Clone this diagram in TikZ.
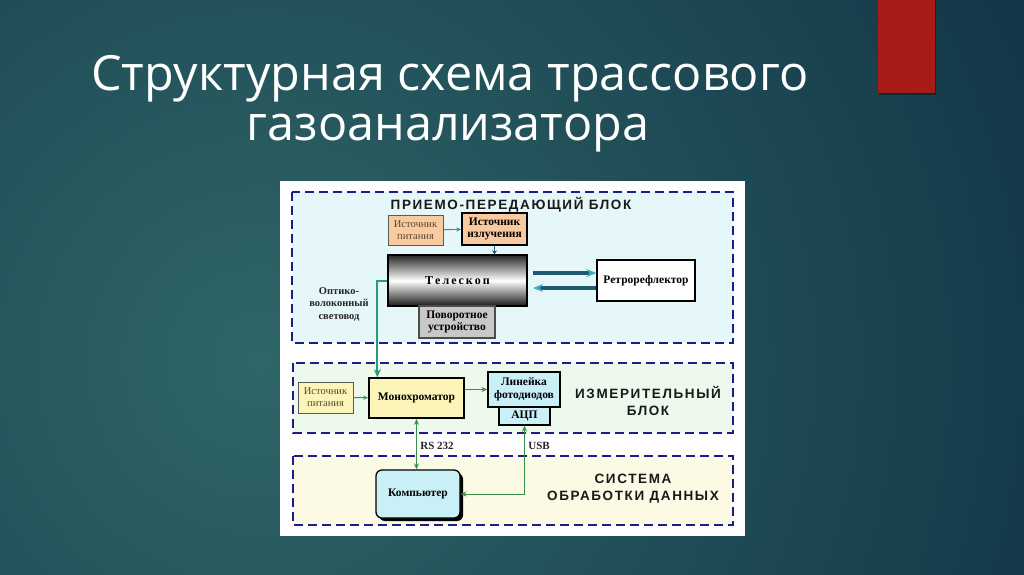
\documentclass[tikz,border=0pt]{standalone}
\usepackage{fontspec}
\setmainfont{Liberation Serif}
\newfontfamily\titlefont{Open Sans}
\newfontfamily\headfont{Liberation Sans}[LetterSpace=12]
\usetikzlibrary{arrows.meta,shadows}
\definecolor{bgmid}{HTML}{2F6668}
\definecolor{bgdark}{HTML}{133848}
\definecolor{redbar}{HTML}{A81A16}
\definecolor{dashblue}{HTML}{1C1C8A}
\definecolor{fillA}{HTML}{E6F7FA}
\definecolor{fillB}{HTML}{ECF9EC}
\definecolor{fillC}{HTML}{FCFAE4}
\definecolor{peach}{HTML}{F9C9A0}
\definecolor{paleyellow}{HTML}{FCF4B8}
\definecolor{palecyan}{HTML}{C9F0F6}
\definecolor{greyfill}{HTML}{C8C8C8}
\definecolor{fibergreen}{HTML}{2A9A78}
\definecolor{arrgreen}{HTML}{3A8F4A}
\definecolor{beamdark}{HTML}{1E5B73}
\definecolor{beamhead}{HTML}{3AAFC8}
\definecolor{smalltext}{HTML}{5A4A30}
\begin{document}
\begin{tikzpicture}[x=1pt,y=-1pt,
  dashbox/.style={draw=dashblue, line width=1.8pt, dash pattern=on 9pt off 5pt},
  blk/.style={draw=black, line width=1.3pt, inner sep=0pt, align=center,
    font=\bfseries\fontsize{11.5}{12.5}\selectfont},
  smallblk/.style={draw=black!65, line width=0.7pt, inner sep=0pt, align=center,
    text=smalltext, font=\fontsize{10.5}{12}\selectfont},
  head/.style={align=center, text=black!90, font=\headfont\bfseries\fontsize{13.5}{17}\selectfont},
  garrow/.style={draw=arrgreen, line width=1pt},
  beam/.style={draw=beamdark, line width=3.5pt}
]
\useasboundingbox (0,0) rectangle (1024,574);
% background
\begin{scope}
\clip (0,0) rectangle (1024,574);
\fill[bgdark] (0,0) rectangle (1024,574);
\shade[inner color=bgmid, outer color=bgdark] (260,360) circle (820);
\end{scope}
% red bar
\fill[black, opacity=0.35] (879,0) rectangle (936,95);
\fill[redbar] (878,0) rectangle (935,93);
% title
\node[anchor=base, text=white, font=\titlefont\fontsize{48.5}{50}\selectfont, inner sep=0pt] (t1) at (450,90) {Структурная схема трассового};
\node[anchor=base, text=white, font=\titlefont\fontsize{48.5}{50}\selectfont, inner sep=0pt] (t2) at (448,140) {газоанализатора};
% panel
\fill[white] (280,181) rectangle (745,536);
% dashed blocks
\filldraw[dashbox, fill=fillA] (292,192) rectangle (733,343);
\filldraw[dashbox, fill=fillB] (293,363) rectangle (733,433);
\filldraw[dashbox, fill=fillC] (293,456) rectangle (733,525);
\node[head] (h1) at (511,205) {ПРИЕМО-ПЕРЕДАЮЩИЙ БЛОК};
\node[head] (h2) at (648,401) {ИЗМЕРИТЕЛЬНЫЙ\\БЛОК};
\node[head] (h3) at (633,489) {СИСТЕМА\\ОБРАБОТКИ ДАННЫХ};
% upper block
\node[smallblk, fill=peach, minimum width=55, minimum height=30] (ip1) at (415.5,230) {Источник\\питания};
\node[blk, fill=peach, line width=1.6pt, minimum width=65, minimum height=32] (ii) at (494.5,229) {Источник\\излучения};
\node[blk, top color=black!85, bottom color=black!90, middle color=white, minimum width=139, minimum height=51,
  font=\bfseries\fontsize{12}{13}\selectfont] (tel) at (457.5,280.5) {Т\,е\,л\,е\,с\,к\,о\,п};
\node[blk, fill=greyfill, draw=black!70, minimum width=76, minimum height=32] (pov) at (457,322) {Поворотное\\устройство};
\node[blk, fill=white, minimum width=98, minimum height=41] (retro) at (646,280.5) {Ретрорефлектор};
\node[align=center, text=black!85, font=\bfseries\fontsize{10.5}{12.5}\selectfont] (fib) at (339,304) {Оптико-\\волоконный\\световод};
% middle block
\node[smallblk, fill=paleyellow, minimum width=55, minimum height=31] (ip2) at (325.5,397.5) {Источник\\питания};
\node[blk, fill=paleyellow, line width=1.6pt, minimum width=95, minimum height=40] (mono) at (416.5,398) {Монохроматор};
\node[blk, fill=palecyan, minimum width=72, minimum height=35] (lin) at (524,389.5) {Линейка\\фотодиодов};
\node[blk, fill=palecyan, minimum width=51, minimum height=18] (adc) at (524.5,416) {АЦП};
% lower block
\node[blk, fill=palecyan, rounded corners=6pt, minimum width=84, minimum height=48,
  drop shadow={opacity=1, fill=black, shadow xshift=3pt, shadow yshift=-3pt}] (comp) at (418,494) {Компьютер};
% connectors
\draw[draw=fibergreen, line width=0.9pt, -{Stealth[length=5pt,width=4pt]}] (ip1) -- (ii);
\draw[draw=beamdark, line width=1.5pt, -{Stealth[length=4pt,width=5pt]}] (ii) -- (ii |- tel.north);
\draw[beam, -{Stealth[length=10pt,width=8pt,color=beamhead]}] (533,273) coordinate (b1) -- (retro.west |- b1);
\draw[beam, -{Stealth[length=10pt,width=8pt,color=beamhead]}] (retro.west |- 0,288) coordinate (b2) -- (533,288);
\draw[draw=fibergreen, line width=2pt, -{Stealth[length=8pt,width=7pt]}] (tel.west) -- ++(-10,0) coordinate (f1) -- (f1 |- mono.north);
\draw[garrow, -{Stealth[length=5pt,width=4pt]}] (ip2) -- (mono);
\draw[garrow, -{Stealth[length=6pt,width=5pt]}] (mono.east |- lin.west) -- (lin.west);
\draw[garrow, {Stealth[length=6pt,width=5pt]}-{Stealth[length=6pt,width=5pt]}] (mono.south) -- (mono.south |- comp.north);
\draw[garrow, {Stealth[length=6pt,width=5pt]}-{Stealth[length=6pt,width=5pt]}] (adc.south) |- (comp.east);
\node[font=\bfseries\fontsize{11}{12}\selectfont, text=black!85] (rs) at (437,446) {RS 232};
\node[font=\bfseries\fontsize{11}{12}\selectfont, text=black!85] (usb) at (539,446) {USB};
\end{tikzpicture}
\end{document}
